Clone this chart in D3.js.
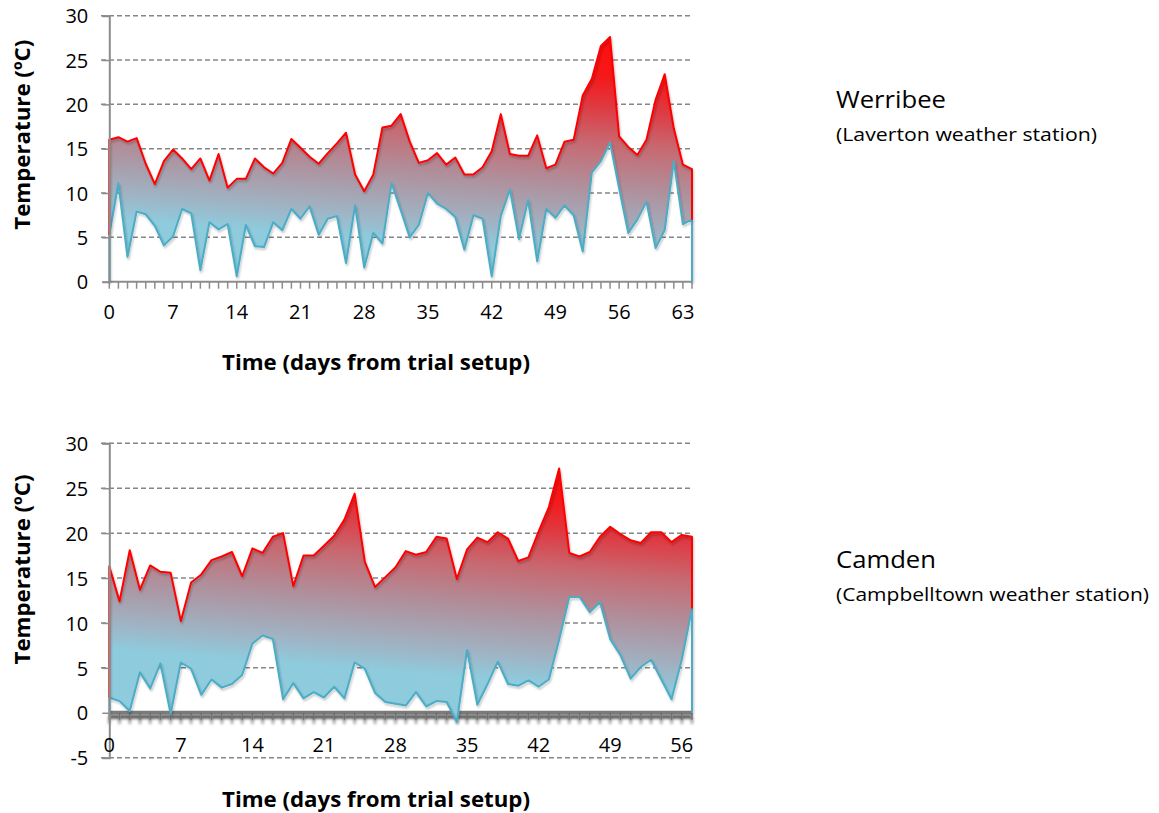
<!DOCTYPE html>
<html>
<head>
<meta charset="utf-8">
<script src="https://cdn.jsdelivr.net/npm/d3@7"></script>
<style>
  body { margin: 0; background: #fff; }
  svg { display: block; }
  text { font-family: "Open Sans", "Noto Sans", sans-serif; fill: #000; }
</style>
</head>
<body>
<svg id="chart" width="1159" height="813"></svg>
<script>
// ---------- DATA ----------
const werribeeMax = [16.0,16.3,15.8,16.2,13.3,11.0,13.6,14.9,13.9,12.7,13.9,11.4,14.4,10.6,11.6,11.6,
  13.9,12.9,12.2,13.4,16.1,15.1,14.1,13.3,14.5,15.6,16.8,12.1,10.2,12.1,17.4,17.6,18.9,15.8,13.4,13.7,
  14.5,13.2,14.0,12.1,12.1,12.9,14.7,18.9,14.4,14.2,14.2,16.5,12.8,13.2,15.8,16.0,21.0,22.9,26.6,27.6,
  16.4,15.2,14.3,16.0,20.5,23.4,17.3,13.2,12.7];
const werribeeMin = [5.3,11.1,2.8,7.9,7.6,6.3,4.1,5.1,8.2,7.7,1.3,6.7,5.9,6.5,0.6,6.4,4.0,3.9,6.7,5.8,
  8.2,7.1,8.5,5.3,7.1,7.4,2.1,8.6,1.6,5.5,4.3,11.1,8.1,5.0,6.4,10.0,8.8,8.2,7.3,3.6,7.5,7.1,0.6,7.4,
  10.4,4.8,9.2,2.3,8.2,7.2,8.6,7.5,3.4,12.3,13.6,15.7,10.5,5.5,7.0,9.0,3.8,5.8,13.6,6.5,7.0];
const camdenMax = [16.3,12.4,18.1,13.7,16.4,15.7,15.6,10.2,14.5,15.4,17.0,17.4,17.9,15.2,18.3,17.8,
  19.6,20.0,14.1,17.5,17.5,18.6,19.7,21.5,24.4,16.8,14.0,15.1,16.2,18.0,17.6,17.9,19.6,19.4,14.9,18.2,
  19.5,19.0,20.1,19.4,16.9,17.3,20.2,22.9,27.2,17.8,17.4,17.9,19.6,20.7,19.9,19.2,18.9,20.1,20.1,19.0,
  19.8,19.6];
const camdenMin = [1.7,1.3,0.2,4.5,2.7,5.5,-0.1,5.6,4.9,2.0,3.7,2.8,3.2,4.2,7.7,8.6,8.2,1.5,3.3,1.6,
  2.3,1.7,2.9,1.6,5.6,4.9,2.2,1.2,1.0,0.8,2.3,0.7,1.3,1.2,-1.0,7.0,0.9,3.2,5.7,3.2,3.0,3.6,2.9,3.7,
  8.1,12.9,12.9,11.2,12.3,8.2,6.4,3.8,5.1,5.9,3.7,1.5,5.9,11.6];

const werribeeTickLabels = [0,7,14,21,28,35,42,49,56,63];
const camdenTickLabels = [0,7,14,21,28,35,42,49,56];
const werribeeYTicks = [0,5,10,15,20,25,30];
const camdenYTicks = [-5,0,5,10,15,20,25,30];

const yTitle = "Temperature (ºC)";
const xTitle = "Time (days from trial setup)";

// ---------- DRAW ----------
const svg = d3.select("#chart");
const defs = svg.append("defs");

const shadow = defs.append("filter").attr("id","axShadow")
  .attr("filterUnits","userSpaceOnUse")
  .attr("x",90).attr("y",-12).attr("width",620).attr("height",30);
shadow.append("feGaussianBlur").attr("in","SourceAlpha").attr("stdDeviation",1.6);
shadow.append("feOffset").attr("dx",0).attr("dy",3.5).attr("result","ob");
shadow.append("feComponentTransfer").append("feFuncA").attr("type","linear").attr("slope",0.7);
const fm = shadow.append("feMerge");
fm.append("feMergeNode");
fm.append("feMergeNode").attr("in","SourceGraphic");

const lshadow = defs.append("filter").attr("id","lineShadow")
  .attr("x","-5%").attr("y","-10%").attr("width","110%").attr("height","120%");
lshadow.append("feGaussianBlur").attr("in","SourceAlpha").attr("stdDeviation",1.2);
lshadow.append("feOffset").attr("dx",1).attr("dy",1.5);
lshadow.append("feComponentTransfer").append("feFuncA").attr("type","linear").attr("slope",0.25);
const lm = lshadow.append("feMerge");
lm.append("feMergeNode");
lm.append("feMergeNode").attr("in","SourceGraphic");

function panel(cfg) {
  const { maxV, minV, tickLabels, yTicks, yDomain, top, bottom, id, axisStyle, labelY, titleY, name, station, nameY } = cfg;
  const left = 109.3, right = 692;
  const n = maxV.length - 1;
  const x = d3.scaleLinear().domain([0, n]).range([left, right]);
  const y = d3.scaleLinear().domain(yDomain).range([bottom, top]);
  const g = svg.append("g");
  const idx = d3.range(maxV.length);

  // gradient: mostly vertical, slightly tilted (redder to the right)
  const xc = (left + right) / 2;
  const h = y(0) - y(28);
  const grad = defs.append("linearGradient").attr("id", id)
    .attr("gradientUnits","userSpaceOnUse")
    .attr("x1", xc).attr("y1", y(0))
    .attr("x2", xc + 0.08 * h).attr("y2", y(28));
  [["0%","#8ecbdd"],["16%","#8ecbdd"],["27%","#a0b2c2"],["45%","#b08e9a"],["62%","#c86870"],
   ["77%","#e03840"],["89%","#f51818"],["100%","#ff1010"]]
    .forEach(([o,c]) => grad.append("stop").attr("offset",o).attr("stop-color",c));

  // gridlines
  g.selectAll(".grid").data(yTicks.filter(v => v !== 0))
    .join("line")
    .attr("x1", 101).attr("x2", right)
    .attr("y1", d => y(d)).attr("y2", d => y(d))
    .attr("stroke", "#868686").attr("stroke-width", 1.5).attr("stroke-dasharray", "5,3");

  // x axis at zero (drawn beneath the series)
  const xa = g.append("g").attr("transform", `translate(0,${y(0)})`);
  if (axisStyle === "shadow") {
    const axg = xa.append("g").attr("filter","url(#axShadow)");
    axg.append("line").attr("x1", left).attr("x2", right).attr("y1", 0).attr("y2", 0)
      .attr("stroke","#7a7a7a").attr("stroke-width",4);
    axg.selectAll(".tk").data(idx).join("line")
      .attr("x1", i => x(i)).attr("x2", i => x(i)).attr("y1", 0).attr("y2", 7)
      .attr("stroke", "#6e6e6e").attr("stroke-width",1.5);
  } else {
    xa.append("line").attr("x1", left).attr("x2", right).attr("y1", 0).attr("y2", 0)
      .attr("stroke","#8c8c8c").attr("stroke-width",2);
    xa.selectAll(".tk").data(idx).join("line")
      .attr("x1", i => x(i)).attr("x2", i => x(i)).attr("y1", 0).attr("y2", 7)
      .attr("stroke", "#8c8c8c").attr("stroke-width",1.5);
  }

  // gradient area between min and max
  const area = d3.area().x(i => x(i)).y0(i => y(minV[i])).y1(i => y(maxV[i]));
  g.append("path").datum(idx).attr("d", area).attr("fill", `url(#${id})`);

  // min line with edges down to zero
  const minPts = [[x(0), y(0)]].concat(idx.map(i => [x(i), y(minV[i])])).concat([[x(n), y(0)]]);
  g.append("path").attr("d", d3.line()(minPts)).attr("filter","url(#lineShadow)")
    .attr("fill","none").attr("stroke","#4bacc6").attr("stroke-width",2).attr("stroke-linejoin","round");

  // max line with edges down to min
  const maxPts = [[x(0), y(minV[0])]].concat(idx.map(i => [x(i), y(maxV[i])])).concat([[x(n), y(minV[n])]]);
  g.append("path").attr("d", d3.line()(maxPts)).attr("filter","url(#lineShadow)")
    .attr("fill","none").attr("stroke","#ff0000").attr("stroke-width",2).attr("stroke-linejoin","round");

  // y axis
  const yAxis = d3.axisLeft(y).tickValues(yTicks).tickSize(7).tickFormat(d => String(d));
  const ya = g.append("g").attr("transform", `translate(${left},0)`).call(yAxis);
  ya.select(".domain").attr("stroke","#8c8c8c").attr("stroke-width",2);
  ya.selectAll(".tick line").attr("stroke","#8c8c8c").attr("stroke-width",1.5);
  ya.selectAll(".tick text").attr("x", -21).attr("dy","0.36em")
    .style("font-size","20px").style("font-family","'Open Sans', sans-serif").attr("fill","#000");

  // x tick labels
  g.selectAll(".xl").data(tickLabels).join("text")
    .attr("x", d => x(d)).attr("y", labelY).attr("text-anchor","middle")
    .style("font-size","20px").text(d => d);

  // titles
  g.append("text").attr("x", 376).attr("y", titleY).attr("text-anchor","middle")
    .attr("textLength", 308).attr("lengthAdjust","spacingAndGlyphs")
    .style("font-size","21px").style("font-weight","bold").text(xTitle);
  const ymid = (top + bottom) / 2 + cfg.yTitleShift;
  g.append("text").attr("transform", `translate(30,${ymid}) rotate(-90)`).attr("text-anchor","middle")
    .attr("textLength", 190).attr("lengthAdjust","spacingAndGlyphs")
    .style("font-size","22px").style("font-weight","bold").text(yTitle);

  // station labels
  g.append("text").attr("x", 836).attr("y", nameY)
    .attr("textLength", cfg.nameLen).attr("lengthAdjust","spacingAndGlyphs")
    .style("font-size","24px").text(name);
  g.append("text").attr("x", 836).attr("y", nameY + 33)
    .attr("textLength", cfg.stationLen).attr("lengthAdjust","spacingAndGlyphs")
    .style("font-size","19px").text(station);
}

panel({ maxV: werribeeMax, minV: werribeeMin, tickLabels: werribeeTickLabels, yTicks: werribeeYTicks,
  yDomain: [0, 30], top: 15.7, bottom: 281.7, id: "gradW", axisStyle: "plain",
  labelY: 319, titleY: 370, name: "Werribee", station: "(Laverton weather station)", nameY: 108,
  nameLen: 110, stationLen: 261, yTitleShift: -14 });

panel({ maxV: camdenMax, minV: camdenMin, tickLabels: camdenTickLabels, yTicks: camdenYTicks,
  yDomain: [-5, 30], top: 443.3, bottom: 757.7, id: "gradC", axisStyle: "shadow",
  labelY: 752, titleY: 807, name: "Camden", station: "(Campbelltown weather station)", nameY: 568,
  nameLen: 100, stationLen: 313, yTitleShift: -31 });
</script>
</body>
</html>
